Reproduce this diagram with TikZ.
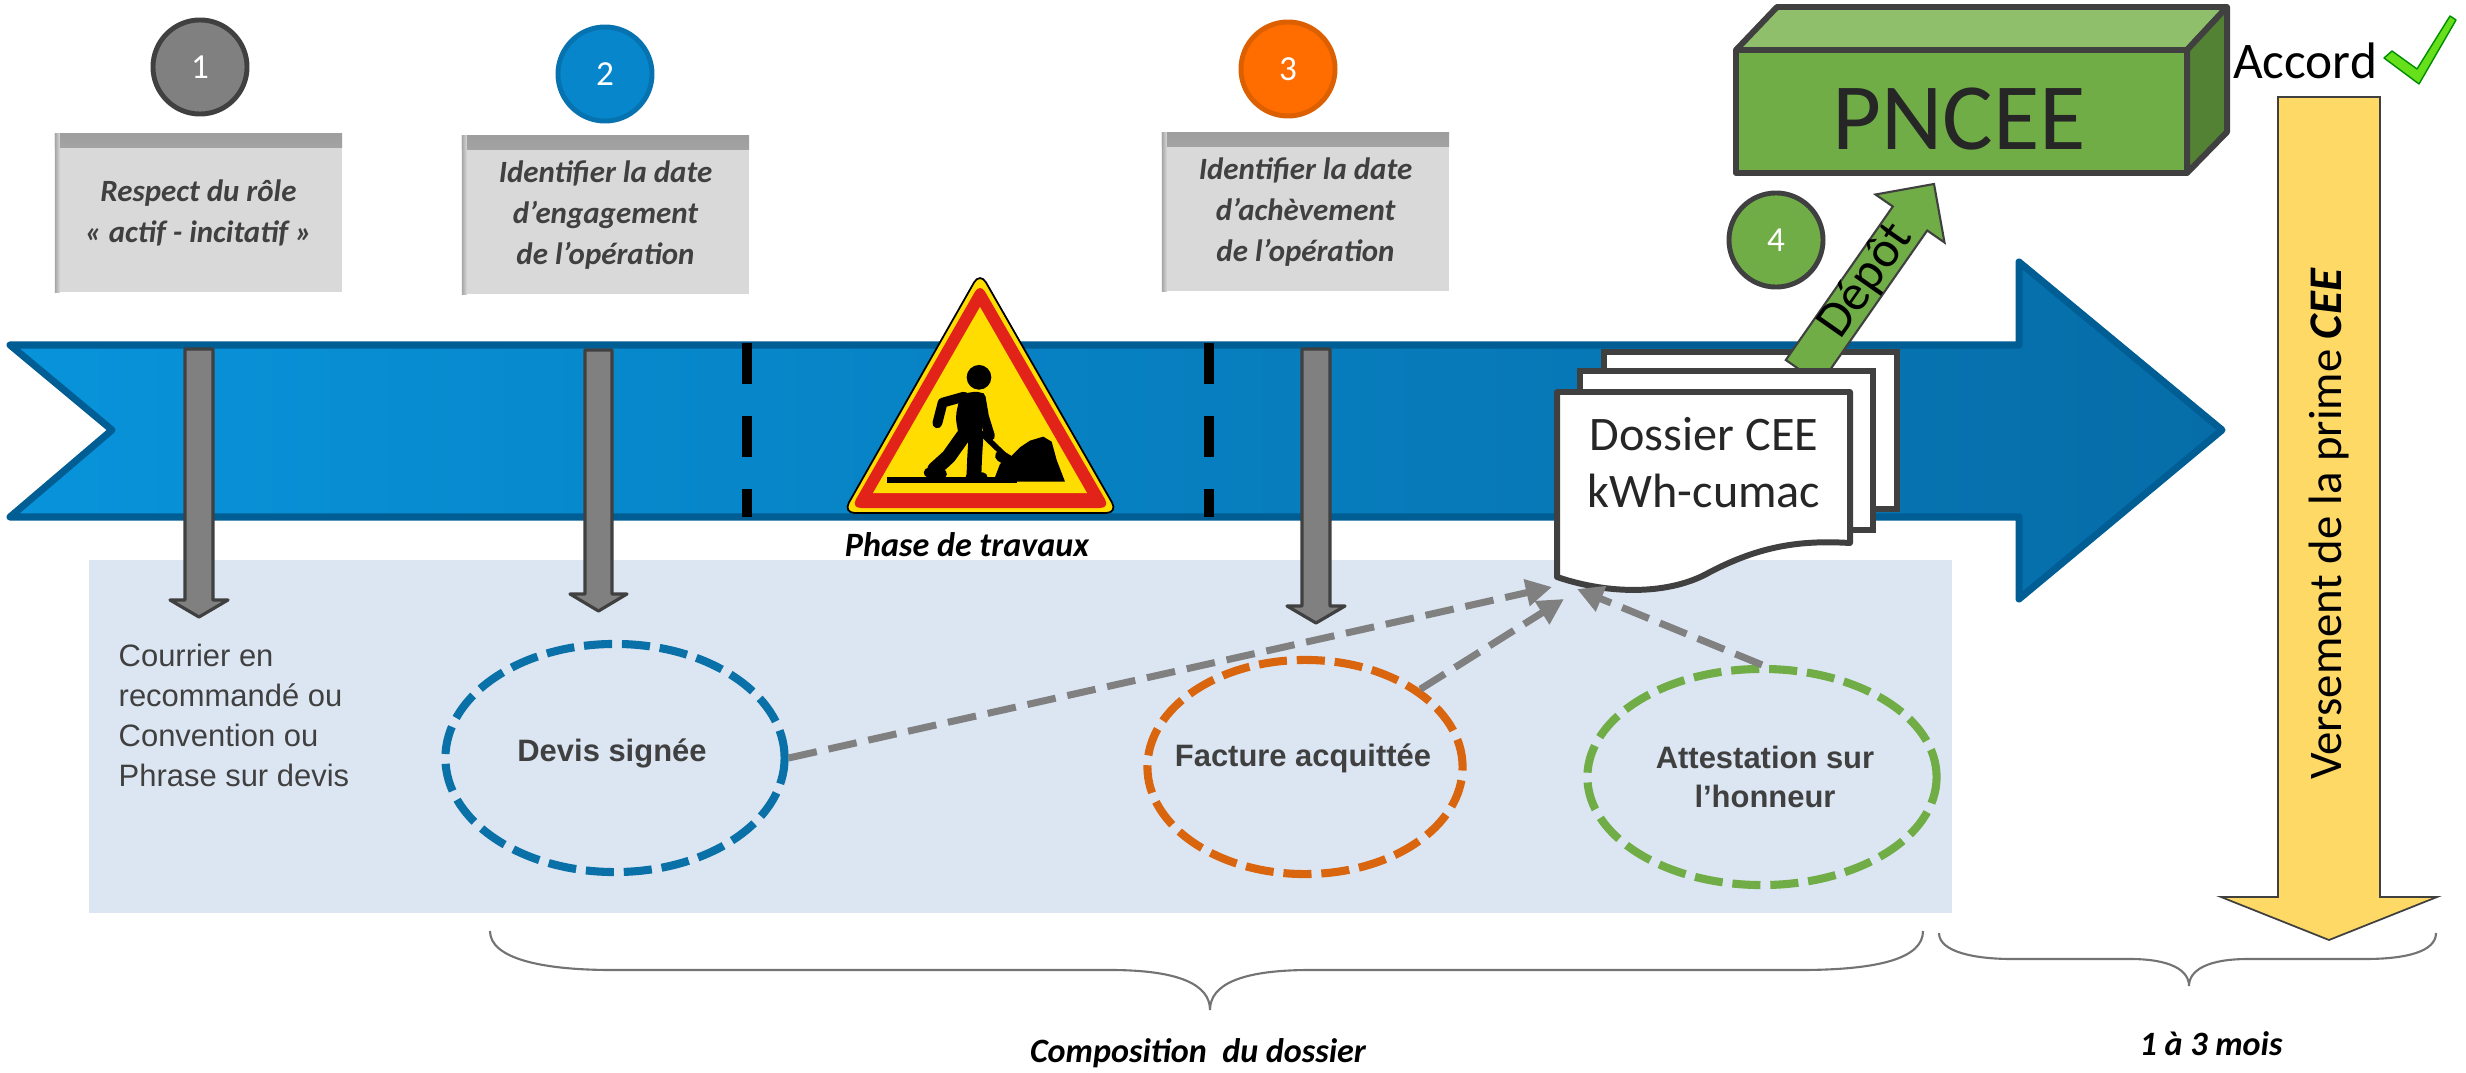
\documentclass[tikz,border=0pt]{standalone}
\usepackage{fontspec}
\setmainfont{Carlito}
\newfontfamily\arialf{Liberation Sans}
\usetikzlibrary{arrows.meta,shapes.geometric}
\definecolor{barL}{HTML}{0893DA}
\definecolor{barR}{HTML}{066DA8}
\definecolor{barB}{HTML}{005E95}
\definecolor{dkgray}{HTML}{404040}
\definecolor{midgray}{HTML}{808080}
\definecolor{boxgray}{HTML}{D9D9D9}
\definecolor{paleblue}{HTML}{DCE6F2}
\definecolor{cblue}{HTML}{0A70A8}
\definecolor{corange}{HTML}{D9650F}
\definecolor{cgreen}{HTML}{70AD47}
\definecolor{gtop}{HTML}{8FBF6A}
\definecolor{gside}{HTML}{548235}
\definecolor{yel}{HTML}{FFD966}
\definecolor{signY}{HTML}{FFDD00}
\definecolor{signR}{HTML}{E2231A}
\definecolor{ctwofill}{HTML}{0786CC}
\definecolor{ctwodraw}{HTML}{0673B0}
\definecolor{cthreefill}{HTML}{FF6D00}
\definecolor{cthreedraw}{HTML}{DC5F00}
\definecolor{checkg}{HTML}{66E01A}
\begin{document}
\begin{tikzpicture}[x=0.01cm,y=-0.01cm,
  numc/.style={circle, minimum size=0.94cm, inner sep=0pt, line width=1.4pt, text=white,
    font=\fontsize{10pt}{12pt}\selectfont},
  infobox/.style={fill=boxgray, minimum width=2.87cm, minimum height=1.58cm, inner sep=0pt,
    align=center, text=dkgray, font=\fontsize{8.8pt}{11.7pt}\selectfont\bfseries\itshape,
    path picture={
      \shade[top color=black!38, bottom color=boxgray] (path picture bounding box.north west)
         rectangle ([yshift=-0.14cm]path picture bounding box.north east);
      \shade[left color=black!35, right color=boxgray] (path picture bounding box.north west)
         rectangle ([xshift=0.05cm]path picture bounding box.south west);}},
  grayarrow/.style={fill=midgray, draw=dkgray, line width=0.9pt, line join=round},
  sepline/.style={line width=2.85pt, dash pattern=on 11.7pt off 9.1pt},
  pagebox/.style={fill=white, draw=dkgray, line width=1.7pt},
  docell/.style={ellipse, line width=2.3pt, dash pattern=on 8pt off 2.8pt, inner sep=0pt},
  docarrow/.style={draw=midgray, line width=2pt, dash pattern=on 8.2pt off 3.4pt,
    -{Triangle[length=7.4pt,width=7.4pt]}},
  bracestyle/.style={draw=black!55, line width=0.6pt},
  ariallbl/.style={font=\arialf\fontsize{8.8pt}{11.4pt}\selectfont, text=dkgray},
  arialbold/.style={font=\arialf\bfseries\fontsize{8.8pt}{11.1pt}\selectfont, text=dkgray, align=center},
  italbl/.style={font=\fontsize{9.7pt}{12pt}\selectfont\bfseries\itshape, text=black},
  cubeface/.style={draw=dkgray, line width=1.7pt, line join=round},
  limb/.style={black, line cap=round, line join=round}
]
\useasboundingbox (0,0) rectangle (2466,1073);

% pale background of the file composition
\fill[paleblue] (89,560) rectangle (1952,913);

% big blue timeline arrow
\path[left color=barL, right color=barR, draw=barB, line width=2pt, line join=round]
  (10,345) -- (2019,345) -- (2019,262) -- (2222,430) -- (2019,599) -- (2019,517)
  -- (10,517) -- (112,430) -- cycle;

% dashed separators
\draw[sepline] (747,343) -- (747,517);
\draw[sepline] (1209,343) -- (1209,517);

% warning sign
\filldraw[fill=signY, draw=black, line width=0.5pt, rounded corners=3.4pt]
  (980,272) -- (1118,513) -- (843,513) -- cycle;
\fill[signR, rounded corners=2.8pt] (980,283) -- (1110,508) -- (851,508) -- cycle;
\fill[signY] (980,307) -- (1087,493) -- (873,493) -- cycle;
\begin{scope}[shift={(830,260)}, scale=0.3333]
  \fill[black] (447,352) circle (37);
  \fill[black, rounded corners=2pt] (392,402) -- (455,392) -- (472,430) -- (462,482) -- (452,532)
    -- (388,536) -- (376,470) -- cycle;
  \draw[limb, line width=2.8pt] (402,410) -- (338,428) -- (322,490);
  \draw[limb, line width=2.8pt] (452,412) -- (462,470) -- (480,528);
  \draw[limb, line width=4.2pt] (400,528) -- (356,590) -- (314,628);
  \draw[limb, line width=4.2pt] (438,528) -- (434,592) -- (432,642);
  \draw[limb, line width=2.8pt] (296,638) -- (336,642);
  \draw[limb, line width=2.8pt] (422,650) -- (458,652);
  \draw[limb, line width=1.6pt] (455,520) -- (528,590);
  \draw[limb, line width=3.2pt] (512,588) -- (542,606);
  \fill[black] (490,665) -- (510,612) -- (540,592) -- (570,562) -- (600,542) -- (640,530)
    -- (665,545) -- (680,600) -- (705,665) -- cycle;
  \fill[black] (170,650) rectangle (560,670);
\end{scope}
\node[italbl] (phase) at (967,545) {Phase de travaux};

% gray down arrows
\draw[grayarrow] (185,349) -- (213,349) -- (213,600) -- (228,600) -- (199,617) -- (170,600) -- (185,600) -- cycle;
\draw[grayarrow] (585,350) -- (612,350) -- (612,594) -- (627,594) -- (598.5,611) -- (570,594) -- (585,594) -- cycle;
\draw[grayarrow] (1302,349) -- (1330,349) -- (1330,606) -- (1345,606) -- (1316,623) -- (1287,606) -- (1302,606) -- cycle;

% numbered circles
\node[numc, fill=midgray, draw=dkgray] (n1) at (200,67) {1};
\node[numc, fill=ctwofill, draw=ctwodraw] (n2) at (605,74) {2};
\node[numc, fill=cthreefill, draw=cthreedraw] (n3) at (1288,69) {3};
\node[numc, fill=cgreen, draw=dkgray] (n4) at (1776,240) {4};

% info boxes
\node[infobox] (box1) at (198.5,213) {Respect du rôle\\« actif - incitatif »};
\node[infobox] (box2) at (605.5,215) {Identifier la date\\d’engagement\\de l’opération};
\node[infobox] (box3) at (1305.5,212) {Identifier la date\\d’achèvement\\de l’opération};

% pile of documents and the Depot arrow
\draw[pagebox] (1604,352) rectangle (1897,509);
\draw[fill=cgreen, draw=dkgray, line width=0.6pt, line join=miter]
  (1785.8,360) -- (1820.2,384) -- (1927.2,230.5) -- (1944.5,242.5) -- (1934,184)
  -- (1875.5,194.5) -- (1892.8,206.5) -- cycle;
\node[rotate=55, font=\fontsize{14.5pt}{17pt}\selectfont, text=black, inner sep=0pt] (depot) at (1866,281) {Dépôt};
\draw[pagebox] (1580,371) rectangle (1873,530);
\draw[pagebox, line join=round] (1557,392) -- (1850,392) -- (1850,543)
  .. controls (1800,540) and (1760,546) .. (1710,572)
  .. controls (1670,595) and (1610,595) .. (1557,577) -- cycle;
\node[align=center, font=\fontsize{13.7pt}{16.2pt}\selectfont, text=black!85] (doss) at (1704,463) {Dossier CEE\\kWh-cumac};

% PNCEE block
\filldraw[cubeface, fill=gtop] (1736,50) -- (1777,7) -- (2227,7) -- (2187,50) -- cycle;
\filldraw[cubeface, fill=gside] (2187,50) -- (2227,7) -- (2227,132) -- (2187,173) -- cycle;
\filldraw[cubeface, fill=cgreen] (1736,50) rectangle (2187,173);
\node[font=\fontsize{27pt}{30pt}\selectfont, text=black!85] (pncee) at (1959,119) {PNCEE};

% Accord and check mark
\node[font=\fontsize{14.6pt}{17pt}\selectfont, text=black] (accord) at (2305,61) {Accord};
\filldraw[fill=checkg, draw=green!55!black, line width=0.4pt, line join=round]
  (2384,58) -- (2392,51) -- (2417,69) -- (2450,16) -- (2456,20) -- (2419,84) -- cycle;

% yellow payment arrow
\filldraw[fill=yel, draw=dkgray, line width=0.5pt]
  (2278,97) -- (2380,97) -- (2380,897) -- (2437,897) -- (2329,940) -- (2221,897) -- (2278,897) -- cycle;
\node[rotate=90, font=\fontsize{13.3pt}{16pt}\selectfont, text=black] (versement) at (2329,524)
  {Versement de la prime \textbf{\textit{CEE}}};

% left text
\node[ariallbl, anchor=north west, align=left, inner sep=0pt] (courrier) at (118,643)
  {Courrier en\\recommandé ou\\Convention ou\\Phrase sur devis};

% document ellipses
\node[docell, draw=cblue, minimum width=3.39cm, minimum height=2.28cm] (devis) at (615,758) {};
\node[arialbold] (devistxt) at (612,753) {Devis signée};
\node[docell, draw=corange, minimum width=3.15cm, minimum height=2.14cm] (facture) at (1305,767) {};
\node[arialbold] (facturetxt) at (1303,758) {Facture acquittée};
\node[docell, draw=cgreen, minimum width=3.49cm, minimum height=2.16cm] (attest) at (1762,777) {};
\node[arialbold] (attesttxt) at (1765,777) {Attestation sur\\l’honneur};

% dashed arrows to the file
\coordinate (tA) at (1552,587);
\coordinate (tB) at (1564,599);
\coordinate (tC) at (1577,589);
\draw[docarrow] (devis.east) -- (tA);
\draw[docarrow] (facture.34) -- (tB);
\draw[docarrow] (attest.north) -- (tC);

% braces
\draw[bracestyle] (490,931) .. controls (490,958) and (540,970) .. (612,970) -- (1110,970)
  .. controls (1180,970) and (1210,985) .. (1210,1010)
  .. controls (1210,985) and (1240,970) .. (1310,970) -- (1800,970)
  .. controls (1880,970) and (1923,958) .. (1923,931);
\draw[bracestyle] (1939,933) .. controls (1939,952) and (1975,959) .. (2012,959) -- (2130,959)
  .. controls (2170,959) and (2189,970) .. (2189,986)
  .. controls (2189,970) and (2208,959) .. (2248,959) -- (2365,959)
  .. controls (2405,959) and (2436,952) .. (2436,933);
\node[italbl] (compo) at (1198,1053) {Composition\ \ du dossier};
\node[italbl] (mois) at (2211,1044) {1 à 3 mois};
\end{tikzpicture}
\end{document}
